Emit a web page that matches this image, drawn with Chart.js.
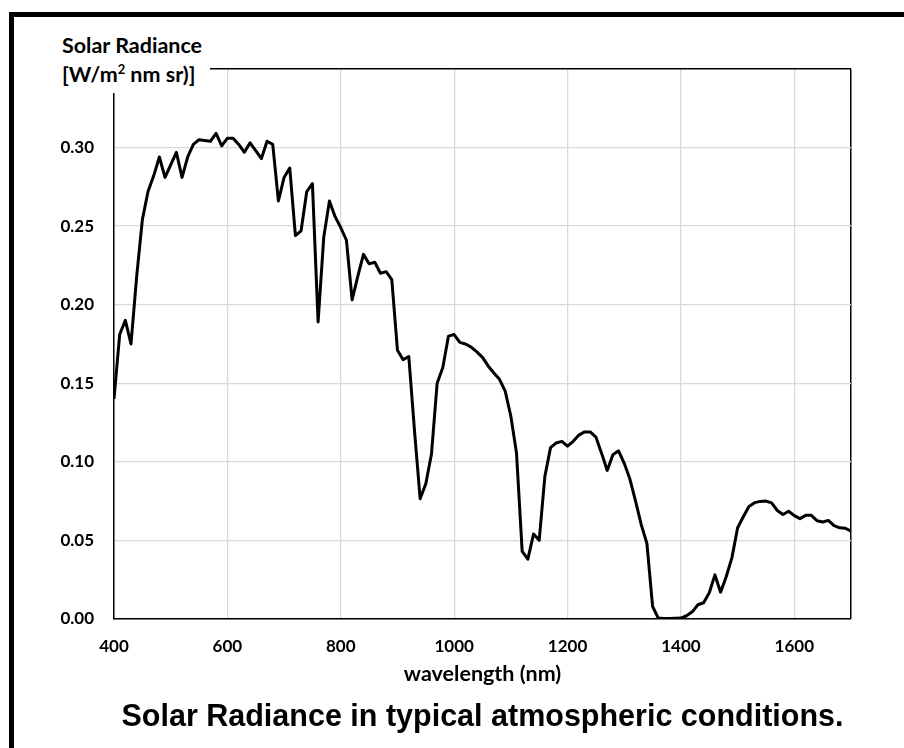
<!DOCTYPE html>
<html>
<head>
<meta charset="utf-8">
<script src="https://cdn.jsdelivr.net/npm/chart.js@4/dist/chart.umd.min.js"></script>
<style>
  html, body { margin: 0; padding: 0; background: #fff; }
  #wrap { position: relative; width: 904px; height: 748px; overflow: hidden; }
  #chart { position: absolute; left: 0; top: 0; }
  #frame {
    position: absolute; left: 9px; top: 12px; right: -20px; bottom: -20px;
    border-left: 5px solid #000; border-top: 5px solid #000;
    pointer-events: none;
  }
  #ytitle {
    position: absolute; left: 55px; top: 30px; width: 148px; height: 62px;
    padding-left: 7px; padding-top: 1px;
    background: #fff;
    font-family: Lato, "Open Sans", sans-serif; font-weight: bold; font-size: 21.5px;
    line-height: 29px; color: #000; white-space: nowrap;
  }
  #ytitle sup { font-size: 0.6em; vertical-align: 0.6em; line-height: 0; }
</style>
</head>
<body>
<div id="wrap">
  <canvas id="chart" width="904" height="748"></canvas>
  <div id="ytitle">Solar Radiance<br>[W/m<sup>2</sup> nm sr)]</div>
  <div id="frame"></div>
</div>
<script>
// wavelength (nm)
const wavelengths = [
  400, 410, 420, 430, 440, 450, 460, 470, 480, 490,
  500, 510, 520, 530, 540, 550, 560, 570, 580, 590,
  600, 610, 620, 630, 640, 650, 660, 670, 680, 690,
  700, 710, 720, 730, 740, 750, 760, 770, 780, 790,
  800, 810, 820, 830, 840, 850, 860, 870, 880, 890,
  900, 910, 920, 930, 940, 950, 960, 970, 980, 990,
  1000, 1010, 1020, 1030, 1040, 1050, 1060, 1070, 1080, 1090,
  1100, 1110, 1120, 1130, 1140, 1150, 1160, 1170, 1180, 1190,
  1200, 1210, 1220, 1230, 1240, 1250, 1260, 1270, 1280, 1290,
  1300, 1310, 1320, 1330, 1340, 1350, 1360, 1370, 1380, 1390,
  1400, 1410, 1420, 1430, 1440, 1450, 1460, 1470, 1480, 1490,
  1500, 1510, 1520, 1530, 1540, 1550, 1560, 1570, 1580, 1590,
  1600, 1610, 1620, 1630, 1640, 1650, 1660, 1670, 1680, 1690,
  1700
];

// solar radiance [W/m2 nm sr]
const radiance = [
  0.140, 0.181, 0.190, 0.175, 0.218, 0.254, 0.272, 0.282, 0.294, 0.281,
  0.289, 0.297, 0.281, 0.294, 0.302, 0.305, 0.3045, 0.304, 0.309, 0.301,
  0.306, 0.306, 0.302, 0.297, 0.303, 0.298, 0.293, 0.304, 0.302, 0.266,
  0.281, 0.287, 0.244, 0.247, 0.272, 0.277, 0.189, 0.243, 0.266, 0.256,
  0.249, 0.241, 0.203, 0.218, 0.232, 0.226, 0.227, 0.220, 0.221, 0.216,
  0.171, 0.165, 0.167, 0.120, 0.0765, 0.086, 0.105, 0.150, 0.160, 0.180,
  0.181, 0.176, 0.175, 0.173, 0.170, 0.1665, 0.161, 0.1565, 0.1525, 0.145,
  0.129, 0.1055, 0.043, 0.038, 0.054, 0.050, 0.0907, 0.109, 0.112, 0.113,
  0.110, 0.113, 0.117, 0.119, 0.119, 0.1157, 0.1055, 0.0945, 0.1045, 0.107,
  0.099, 0.089, 0.075, 0.060, 0.048, 0.008, 0.0005, 0.0003, 0.0003, 0.0004,
  0.0005, 0.002, 0.0045, 0.009, 0.0103, 0.0166, 0.028, 0.017, 0.027, 0.039,
  0.058, 0.065, 0.0716, 0.074, 0.0748, 0.075, 0.0738, 0.069, 0.0664, 0.0685,
  0.0657, 0.0638, 0.0659, 0.0659, 0.0625, 0.0617, 0.0627, 0.0594, 0.058, 0.0577,
  0.0558
];

// axis ticks
const xTicks = [400, 600, 800, 1000, 1200, 1400, 1600];
const yTicks = [0, 0.05, 0.10, 0.15, 0.20, 0.25, 0.30];
const xMin = 400, xMax = 1700;
const yMin = 0, yMax = 0.35;

const tickFont = { family: 'Lato, "Open Sans", sans-serif', weight: 'bold', size: 17 };
const isEdge = (c, max) => c.tick && c.tick.value === max;

new Chart(document.getElementById('chart'), {
  type: 'line',
  data: {
    datasets: [{
      data: wavelengths.map((w, i) => ({ x: w, y: radiance[i] })),
      borderColor: '#000',
      borderWidth: 3,
      pointRadius: 0,
      tension: 0,
      borderJoinStyle: 'round',
      fill: false,
    }]
  },
  options: {
    responsive: false,
    animation: false,
    layout: { padding: { top: 69, right: 53, bottom: 0, left: 0 } },
    plugins: {
      legend: { display: false },
      tooltip: { enabled: false },
      title: {
        display: true,
        position: 'bottom',
        fullSize: false,
        text: 'Solar Radiance in typical atmospheric conditions.',
        color: '#000',
        font: { family: '"Liberation Sans", Arial, sans-serif', weight: 'bold', size: 30.5 },
        padding: { top: 0, bottom: 12 },
      }
    },
    scales: {
      x: {
        type: 'linear',
        min: xMin, max: xMax,
        afterFit: s => { s.height = 80.5; },
        afterBuildTicks: s => { s.ticks = xTicks.concat([xMax]).map(v => ({ value: v })); },
        ticks: {
          autoSkip: false,
          maxRotation: 0,
          padding: 17,
          color: '#000',
          font: tickFont,
          callback: v => (v === xMax ? '' : String(v)),
        },
        grid: {
          drawTicks: false,
          color: c => (isEdge(c, xMax) ? '#000' : '#d9d9d9'),
          lineWidth: c => (isEdge(c, xMax) ? 1.5 : 1.3),
        },
        border: { color: '#000', width: 1.5 },
        title: {
          display: true,
          text: 'wavelength (nm)',
          color: '#000',
          font: { family: 'Lato, "Open Sans", sans-serif', weight: 'bold', size: 21.5 },
          padding: { top: 0, bottom: 12 },
        }
      },
      y: {
        min: yMin, max: yMax,
        afterFit: s => { s.width = 114; },
        afterBuildTicks: s => { s.ticks = yTicks.concat([yMax]).map(v => ({ value: v })); },
        ticks: {
          padding: 20,
          color: '#000',
          font: tickFont,
          callback: v => (v === yMax ? '' : Number(v).toFixed(2)),
        },
        grid: {
          drawTicks: false,
          color: c => (isEdge(c, yMax) ? '#000' : '#d9d9d9'),
          lineWidth: c => (isEdge(c, yMax) ? 1.5 : 1.3),
        },
        border: { color: '#000', width: 1.5 },
      }
    }
  }
});
</script>
</body>
</html>
